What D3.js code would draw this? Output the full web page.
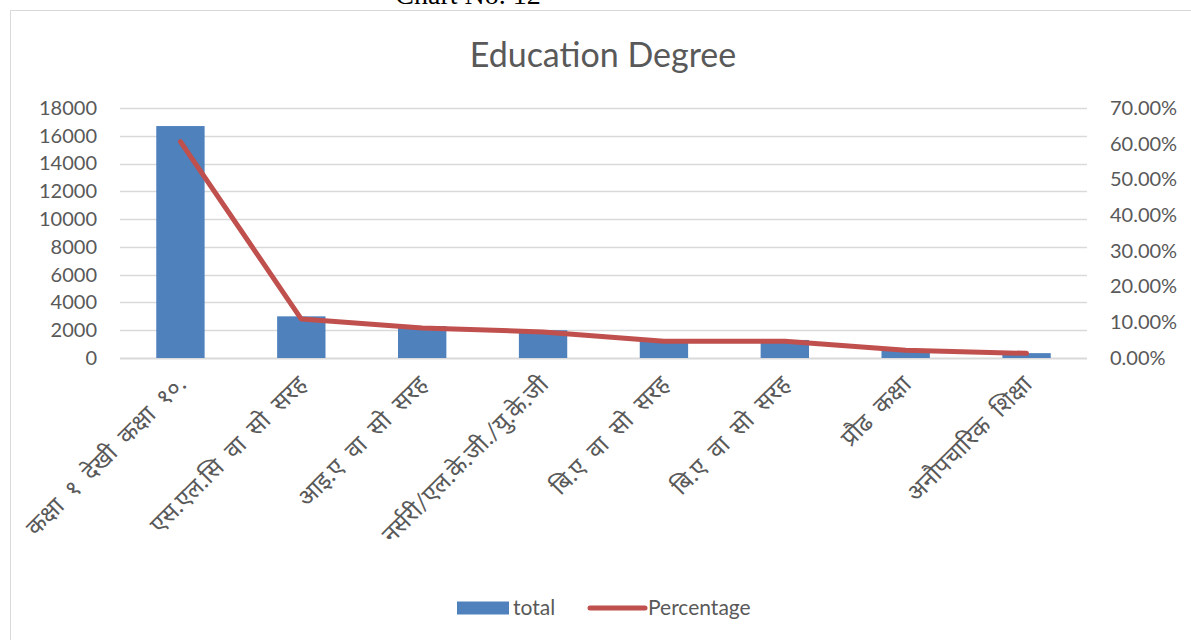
<!DOCTYPE html>
<html>
<head>
<meta charset="utf-8">
<script src="https://cdn.jsdelivr.net/npm/d3@7"></script>
<style>
  body { margin: 0; background: #fff; }
  text { font-family: Lato, "Noto Sans", sans-serif; }
</style>
</head>
<body>
<div id="chart"></div>
<script>
let categories = [
  "कक्षा १ देखी कक्षा १०.",
  "एस.एल.सि वा सो सरह",
  "आइ.ए वा सो सरह",
  "नर्सरी/एल.के.जी./यु.के.जी",
  "बि.ए वा सो सरह",
  "बि.ए वा सो सरह",
  "प्रौढ कक्षा",
  "अनौपचारिक शिक्षा"
];
let totals = [16700, 3000, 2300, 2000, 1300, 1300, 600, 350];
let percentages = [0.606, 0.109, 0.084, 0.073, 0.047, 0.047, 0.022, 0.013];
let leftTicks = [0, 2000, 4000, 6000, 8000, 10000, 12000, 14000, 16000, 18000];
let rightTicks = [0, 0.1, 0.2, 0.3, 0.4, 0.5, 0.6, 0.7];

let W = 1191, H = 640;
let margin = { left: 120, right: 104, top: 108, bottom: 282 };
let width = W - margin.left - margin.right;
let height = H - margin.top - margin.bottom;

let root = d3.select("#chart").append("svg")
  .attr("width", W).attr("height", H);

// frame and caption
root.append("rect")
  .attr("x", 10.5).attr("y", 10.5)
  .attr("width", W + 20).attr("height", H + 20)
  .attr("fill", "none").attr("stroke", "#d9d9d9");

root.append("text")
  .attr("x", 468).attr("y", 4)
  .attr("text-anchor", "middle")
  .style("font-family", "'Liberation Serif', serif")
  .style("font-size", "28px")
  .attr("fill", "#000")
  .text("Chart No. 12");

root.append("text")
  .attr("x", 603).attr("y", 67)
  .attr("text-anchor", "middle")
  .style("font-size", "34px")
  .attr("fill", "#595959")
  .text("Education Degree");

let svg = root.append("g")
  .attr("transform", `translate(${margin.left}, ${margin.top})`);

let xScale = d3.scaleBand().domain(d3.range(categories.length))
  .range([0, width]).paddingInner(0.6).paddingOuter(0.3);
let yScale = d3.scaleLinear().domain([0, 18000]).range([height, 0]);
let y2Scale = d3.scaleLinear().domain([0, 0.7]).range([height, 0]);

// gridlines
svg.append("g")
  .selectAll("line")
  .data(leftTicks)
  .enter()
  .append("line")
  .attr("x1", 0).attr("x2", width)
  .attr("y1", (d) => Math.round(yScale(d)) + 0.5)
  .attr("y2", (d) => Math.round(yScale(d)) + 0.5)
  .attr("stroke", "#d9d9d9")
  .attr("stroke-width", (d) => (d === 0 ? 2 : 1.3));

// left axis
let yAxis = svg.append("g")
  .call(d3.axisLeft(yScale).tickValues(leftTicks)
    .tickFormat(d3.format("d")).tickSize(0).tickPadding(23));
yAxis.select(".domain").remove();
yAxis.selectAll("text").style("font-size", "20px").attr("fill", "#595959");

// right axis
let y2Axis = svg.append("g")
  .attr("transform", `translate(${width}, 0)`)
  .call(d3.axisRight(y2Scale).tickValues(rightTicks)
    .tickFormat(d3.format(".2%")).tickSize(0).tickPadding(23));
y2Axis.select(".domain").remove();
y2Axis.selectAll("text").style("font-size", "20px").attr("fill", "#595959");

// bars
svg.selectAll("bars")
  .data(totals)
  .enter()
  .append("rect")
  .attr("x", (d, i) => xScale(i))
  .attr("y", (d) => yScale(d))
  .attr("width", xScale.bandwidth())
  .attr("height", (d) => height - yScale(d))
  .attr("fill", "#4f81bd");

// line
let cx = (i) => xScale(i) + xScale.bandwidth() / 2;
let line = d3.line()
  .x((d, i) => cx(i))
  .y((d) => y2Scale(d));

svg.append("path")
  .datum(percentages)
  .attr("d", line)
  .attr("fill", "none")
  .attr("stroke", "#c0504d")
  .attr("stroke-width", 5)
  .attr("stroke-linecap", "round")
  .attr("stroke-linejoin", "round");

// category labels
svg.append("g")
  .selectAll("text")
  .data(categories)
  .enter()
  .append("text")
  .attr("transform", (d, i) => `translate(${cx(i) + 1}, ${height + 22}) rotate(-45)`)
  .attr("text-anchor", "end")
  .attr("dy", "0.35em")
  .style("font-size", "24px")
  .style("word-spacing", "6px")
  .attr("fill", "#595959")
  .text((d) => d);

// legend
let legend = root.append("g").attr("transform", "translate(457, 608)");
legend.append("rect")
  .attr("x", 0).attr("y", -6.5).attr("width", 52).attr("height", 13)
  .attr("fill", "#4f81bd");
legend.append("text")
  .attr("x", 56).attr("y", 0).attr("dy", "0.35em")
  .style("font-size", "21px").attr("fill", "#595959")
  .text("total");
legend.append("line")
  .attr("x1", 133).attr("x2", 188).attr("y1", 0).attr("y2", 0)
  .attr("stroke", "#c0504d").attr("stroke-width", 5)
  .attr("stroke-linecap", "round");
legend.append("text")
  .attr("x", 191).attr("y", 0).attr("dy", "0.35em")
  .style("font-size", "21px").attr("fill", "#595959")
  .text("Percentage");
</script>
</body>
</html>
